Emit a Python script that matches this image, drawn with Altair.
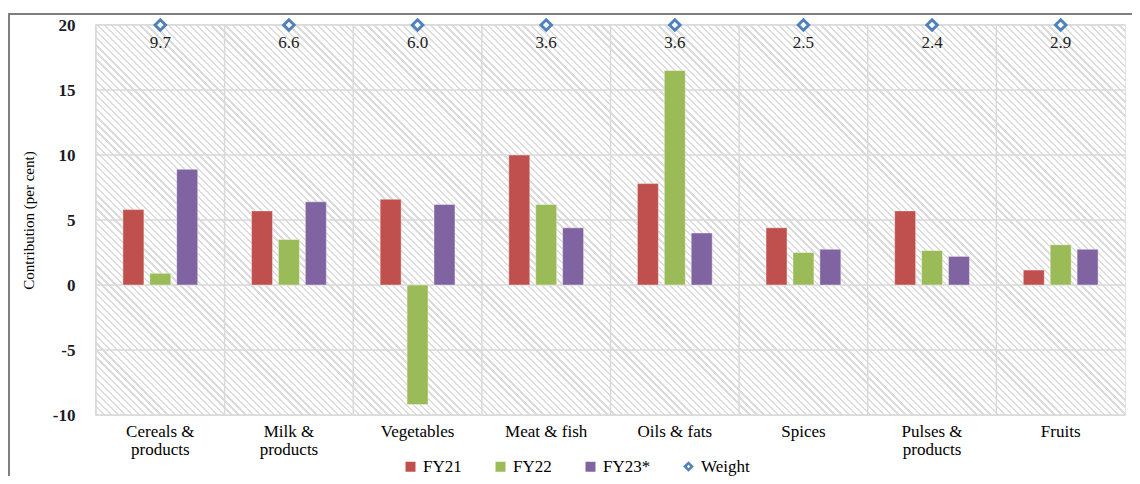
import altair as alt
import pandas as pd

categories = ["Cereals & products", "Milk & products", "Vegetables", "Meat & fish",
              "Oils & fats", "Spices", "Pulses & products", "Fruits"]
series = ["FY21", "FY22", "FY23*"]
fy21 = [5.8, 5.7, 6.6, 10.0, 7.8, 4.4, 5.7, 1.15]
fy22 = [0.9, 3.5, -9.2, 6.2, 16.5, 2.5, 2.65, 3.1]
fy23 = [8.9, 6.4, 6.2, 4.4, 4.0, 2.75, 2.2, 2.75]
weights = [9.7, 6.6, 6.0, 3.6, 3.6, 2.5, 2.4, 2.9]
y_ticks = [-10, -5, 0, 5, 10, 15, 20]
weight_pos = 20

rows = []
for s, vals in zip(series, [fy21, fy22, fy23]):
    for c, v in zip(categories, vals):
        rows.append({"category": c, "series": s, "value": v})
bars_df = pd.DataFrame(rows)
w_df = pd.DataFrame({"category": categories, "weight": weights,
                     "pos": [weight_pos] * len(categories),
                     "label": ["Weight"] * len(categories)})
ticks_df = pd.DataFrame({"tick": y_ticks})
cat_df = pd.DataFrame({"category": categories})

W, H = 1029, 390
# diagonal hatch background as a striped linear gradient
r = H / W
s = (1 + r) / (1 + r * r)
n = 200
stops = []
for k in range(n):
    a = k / n
    b = (k + 0.32) / n
    c2 = (k + 1) / n
    stops += [{"offset": a, "color": "#dcdcdc"}, {"offset": b, "color": "#dcdcdc"},
              {"offset": b, "color": "#ffffff"}, {"offset": c2, "color": "#ffffff"}]
hatch = {"gradient": "linear", "x1": 0, "y1": 1, "x2": s, "y2": 1 - r * s, "stops": stops}

serif = "'Liberation Serif', 'Times New Roman', serif"
colors = ["#c0504d", "#9bbb59", "#8064a2"]
weight_color = "#4f81bd"
grid_color = "#d9d9d9"

label_expr = ("indexof(datum.label, ' & products') > 0 ? "
              "[replace(datum.label, ' products', ''), 'products'] : datum.label")

x_scale = alt.Scale(domain=categories, paddingInner=0, paddingOuter=0)
y_scale = alt.Scale(domain=[-10, 20], nice=False)

x_axis = alt.Axis(title=None, labelAngle=0, labelExpr=label_expr,
                  bandPosition=0.5, labelAlign="center",
                  labelFont=serif, labelFontSize=17, labelColor="#000",
                  labelPadding=8, ticks=False, tickSize=0, domain=False,
                  grid=False, labelLineHeight=18)
y_axis = alt.Axis(values=y_ticks, title="Contribution (per cent)",
                  labelExpr="'' + datum.value",
                  titleFont=serif, titleFontSize=15, titleFontWeight="normal",
                  titleColor="#000", titlePadding=16,
                  labelFont=serif, labelFontSize=17, labelFontWeight="bold",
                  labelColor="#1c1c28", labelPadding=21, ticks=False, tickSize=0,
                  domain=False, grid=False)

bg = alt.Chart(pd.DataFrame({"a": [0]})).mark_rect(fill=hatch).encode(
    x=alt.value(0), x2=alt.value(W), y=alt.value(0), y2=alt.value(H))

hgrid = alt.Chart(ticks_df).mark_rule(color=grid_color, strokeWidth=1.5).encode(
    y=alt.Y("tick:Q", scale=y_scale, axis=y_axis))
vgrid = alt.Chart(cat_df).mark_rule(color=grid_color, strokeWidth=1.5).encode(
    x=alt.X("category:N", scale=x_scale, bandPosition=0, axis=x_axis))

bars = alt.Chart(bars_df).mark_bar(stroke="#ffffff", strokeOpacity=0.5, strokeWidth=0.8).encode(
    x=alt.X("category:N", scale=x_scale, axis=x_axis),
    xOffset=alt.XOffset("series:N", sort=series,
                        scale=alt.Scale(paddingInner=0.22, paddingOuter=1.0)),
    y=alt.Y("value:Q", scale=y_scale, axis=y_axis),
    color=alt.Color("series:N",
                    scale=alt.Scale(domain=series, range=colors),
                    legend=alt.Legend(
                        title=None, orient="none", direction="horizontal",
                        legendX=306, legendY=433, symbolType="square",
                        labelFont=serif, labelFontSize=17, labelColor="#000",
                        symbolSize=100, columnPadding=30, symbolStrokeWidth=0)),
)

wpts = alt.Chart(w_df).mark_point(shape="diamond", filled=True, fill="#ffffff",
                                  strokeWidth=3, size=110,
                                  opacity=1, fillOpacity=1).encode(
    x=alt.X("category:N", scale=x_scale, axis=x_axis),
    y=alt.Y("pos:Q", scale=y_scale, axis=y_axis),
    stroke=alt.Stroke("label:N", scale=alt.Scale(domain=["Weight"], range=[weight_color]),
                      legend=alt.Legend(title=None, orient="none", direction="horizontal",
                                        legendX=584, legendY=433, symbolType="diamond",
                                        labelFont=serif, labelFontSize=17, labelColor="#000",
                                        symbolSize=50, symbolStrokeWidth=2.5,
                                        symbolFillColor="#ffffff")),
)
wtxt = alt.Chart(w_df).mark_text(font=serif, fontSize=17, color="#222", dy=18).encode(
    x=alt.X("category:N", scale=x_scale, axis=x_axis),
    y=alt.Y("pos:Q", scale=y_scale, axis=y_axis),
    text=alt.Text("weight:Q", format=".1f"),
)

frame = alt.Chart(pd.DataFrame({"a": [0]})).mark_rect(
    fill="transparent", stroke="#7f7f7f", strokeWidth=2).encode(
    x=alt.value(-87), x2=alt.value(W + 60), y=alt.value(-11), y2=alt.value(H + 120))

chart = alt.layer(bg, hgrid, vgrid, bars, wpts, wtxt, frame).properties(
    width=W, height=H,
    autosize=alt.AutoSizeParams(type="none"),
    padding={"left": 88, "top": 17, "right": 7, "bottom": 61},
).configure_view(stroke=grid_color, strokeWidth=1.5)

chart.save("out.html", embed_options={"renderer": "svg", "actions": False})
